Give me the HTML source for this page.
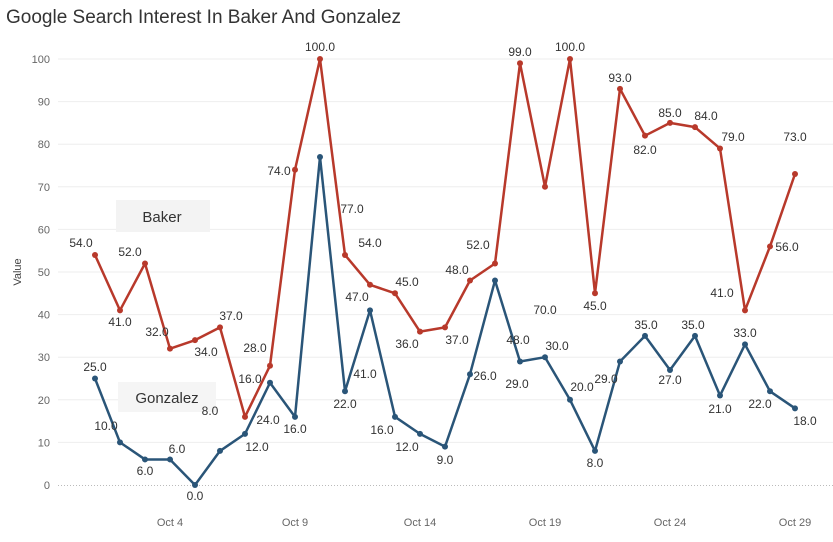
<!DOCTYPE html>
<html><head><meta charset="utf-8"><style>
body{margin:0;background:#fff;}
svg{display:block;font-family:"Liberation Sans",sans-serif;}
</style></head><body>
<svg width="833" height="542" viewBox="0 0 833 542">
<text x="6" y="23" font-size="19" fill="#333">Google Search Interest In Baker And Gonzalez</text>
<g id="grid" stroke="#eee" stroke-width="1"></g>
<line x1="58" y1="485.5" x2="833" y2="485.5" stroke="#bbb" stroke-dasharray="1,2"/>
<g id="yt" font-size="11" fill="#666" text-anchor="end"></g>
<text transform="translate(21,272) rotate(-90)" font-size="11" fill="#444" text-anchor="middle">Value</text>
<g font-size="11" fill="#666" text-anchor="middle">
<text x="170" y="526">Oct 4</text><text x="295" y="526">Oct 9</text><text x="420" y="526">Oct 14</text><text x="545" y="526">Oct 19</text><text x="670" y="526">Oct 24</text><text x="795" y="526">Oct 29</text>
</g>
<rect x="116" y="200" width="94" height="32" fill="#f3f3f3"/>
<text x="162" y="222" font-size="15" fill="#333" text-anchor="middle">Baker</text>
<rect x="118" y="382" width="98" height="30" fill="#f5f5f5"/>
<text x="167" y="403" font-size="15" fill="#333" text-anchor="middle">Gonzalez</text>
<g id="series"></g>
<g id="labels" font-size="12" fill="#333" text-anchor="middle"></g>
</svg>
<script>
var ns="http://www.w3.org/2000/svg";
function el(t,a,p){var e=document.createElementNS(ns,t);for(var k in a)e.setAttribute(k,a[k]);p.appendChild(e);return e;}
var g=document.getElementById('grid'),yt=document.getElementById('yt');
for(var v=10;v<=100;v+=10){var y=485-v*4.26;el('line',{x1:58,x2:833,y1:y,y2:y},g);}
for(var v=0;v<=100;v+=10){var y=485-v*4.26;var t=el('text',{x:50,y:y+4},yt);t.textContent=v;}
var B=[54,41,52,32,34,37,16,28,74,100,54,47,45,36,37,48,52,99,70,100,45,93,82,85,84,79,41,56,73];
var G=[25,10,6,6,0,8,12,24,16,77,22,41,16,12,9,26,48,29,30,20,8,29,35,27,35,21,33,22,18];
var s=document.getElementById('series');
function draw(d,c){var pts=d.map(function(v,i){return (95+i*25)+","+(485-v*4.26)}).join(" ");
el('polyline',{points:pts,fill:"none",stroke:c,"stroke-width":2.5,"stroke-linejoin":"round"},s);
d.forEach(function(v,i){el('circle',{cx:95+i*25,cy:485-v*4.26,r:3,fill:c},s);});}
draw(G,"#2a5578");draw(B,"#b8392b");
var L=[["54.0",81,247],["41.0",120,326],["52.0",130,256],["32.0",157,336],["34.0",206,356],["37.0",231,320],["16.0",250,383],["12.0",257,451],["28.0",255,352],["24.0",268,424],["16.0",295,433],["74.0",279,175],["100.0",320,51],["77.0",352,213],["54.0",370,247],["22.0",345,408],["47.0",357,301],["41.0",365,378],["45.0",407,286],["16.0",382,434],["36.0",407,348],["12.0",407,451],["37.0",457,344],["48.0",457,274],["9.0",445,464],["26.0",485,380],["52.0",478,249],["48.0",518,344],["99.0",520,56],["29.0",517,388],["70.0",545,314],["30.0",557,350],["100.0",570,51],["20.0",582,391],["45.0",595,310],["8.0",595,467],["29.0",606,383],["93.0",620,82],["35.0",646,329],["82.0",645,154],["85.0",670,117],["27.0",670,384],["84.0",706,120],["35.0",693,329],["79.0",733,141],["21.0",720,413],["41.0",722,297],["33.0",745,337],["56.0",787,251],["22.0",760,408],["73.0",795,141],["18.0",805,425],["25.0",95,371],["10.0",106,430],["6.0",145,475],["6.0",177,453],["0.0",195,500],["8.0",210,415]];
var lg=document.getElementById('labels');
L.forEach(function(l){var t=el('text',{x:l[1],y:l[2]},lg);t.textContent=l[0];});
</script>
</body></html>
